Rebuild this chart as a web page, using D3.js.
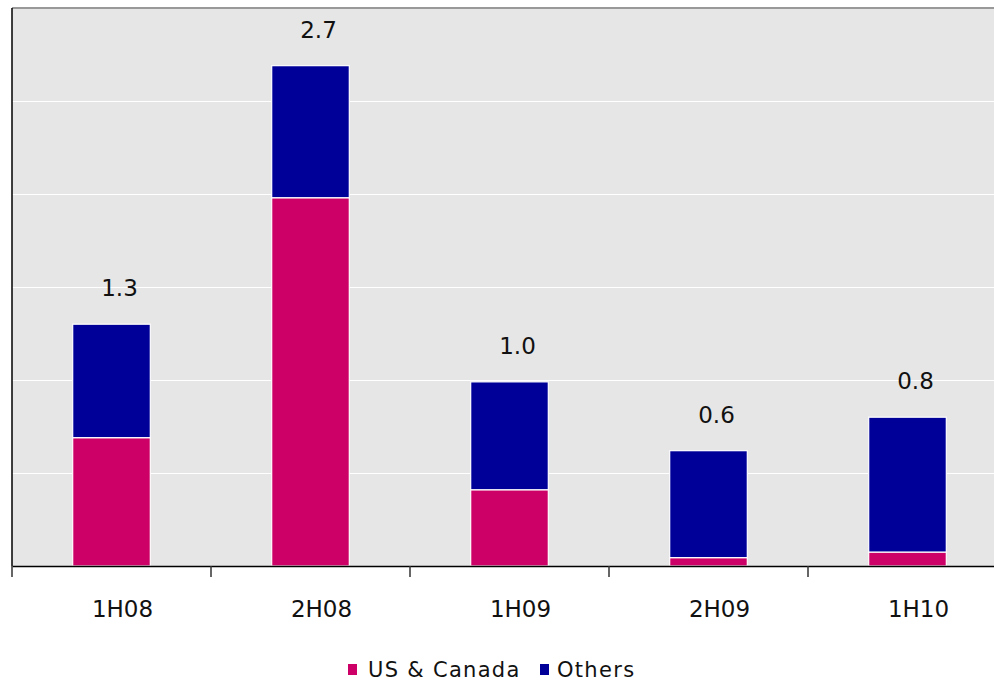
<!DOCTYPE html>
<html>
<head>
<meta charset="utf-8">
<script src="https://cdn.jsdelivr.net/npm/d3@7"></script>
<style>
  body { margin: 0; background: #fff; }
  text { font-family: "DejaVu Sans", Verdana, sans-serif; fill: #111; }
</style>
</head>
<body>
<div id="chart"></div>
<script>
// data
const periods = ["1H08", "2H08", "1H09", "2H09", "1H10"];
const usCanada = [0.69, 1.98, 0.41, 0.045, 0.075];
const others = [0.61, 0.71, 0.58, 0.575, 0.725];
const seriesNames = ["US & Canada", "Others"];
const seriesColors = ["#cc0066", "#000099"];
const yTicks = [0, 0.5, 1, 1.5, 2, 2.5, 3];

const W = 994, H = 682;
const margin = { top: 8, left: 12, bottom: 116 };
const plotRight = 1007;   // plot runs past the window edge

const svg = d3.select("#chart").append("svg")
    .attr("width", W)
    .attr("height", H);

// category slots (ticks sit on their edges)
const xOuter = d3.scaleBand()
    .domain(periods)
    .range([margin.left, plotRight]);

// bars inside the slots
const x = d3.scaleBand()
    .domain(periods)
    .range([margin.left, plotRight])
    .paddingInner(0.61)
    .paddingOuter(0.305);

const y = d3.scaleLinear()
    .domain([0, 3])
    .range([H - margin.bottom, margin.top]);

// plot background
svg.append("rect")
    .attr("x", margin.left)
    .attr("y", margin.top)
    .attr("width", plotRight - margin.left)
    .attr("height", y(0) - margin.top)
    .attr("fill", "#e6e6e6");

// gridlines
svg.append("g")
    .selectAll("line")
    .data(yTicks.filter(d => d > 0 && d < 3))
    .join("line")
    .attr("x1", margin.left)
    .attr("x2", plotRight)
    .attr("y1", d => Math.round(y(d)) + 0.5)
    .attr("y2", d => Math.round(y(d)) + 0.5)
    .attr("stroke", "#fff")
    .attr("stroke-width", 1);

// top border
svg.append("line")
    .attr("x1", margin.left)
    .attr("x2", plotRight)
    .attr("y1", y(3))
    .attr("y2", y(3))
    .attr("stroke", "#999")
    .attr("stroke-width", 2);

// stacked bars
const rows = periods.map((p, i) => ({ period: p, us: usCanada[i], others: others[i] }));
const stack = d3.stack().keys(["us", "others"])(rows);

svg.append("g")
    .selectAll("g")
    .data(stack)
    .join("g")
    .attr("fill", (d, i) => seriesColors[i])
    .selectAll("rect")
    .data(d => d)
    .join("rect")
    .attr("x", d => x(d.data.period))
    .attr("y", d => y(d[1]))
    .attr("width", x.bandwidth())
    .attr("height", d => y(d[0]) - y(d[1]))
    .attr("stroke", "#fff")
    .attr("stroke-width", 1.2);

// total labels
svg.append("g")
    .selectAll("text")
    .data(rows)
    .join("text")
    .attr("x", d => x(d.period) + x.bandwidth() / 2 + 8)
    .attr("y", d => y(d.us + d.others) - 28)
    .attr("text-anchor", "middle")
    .style("font-size", "23px")
    .text(d => d3.format(".1f")(d.us + d.others));

// x axis line + ticks on slot edges
const gx = svg.append("g")
    .attr("transform", "translate(0," + y(0) + ")")
    .call(d3.axisBottom(xOuter).tickSize(0).tickFormat(""));
gx.select(".domain").attr("stroke", "#000").attr("stroke-width", 1.5);

svg.append("g")
    .selectAll("line")
    .data(periods)
    .join("line")
    .attr("x1", d => xOuter(d))
    .attr("x2", d => xOuter(d))
    .attr("y1", y(0))
    .attr("y2", y(0) + 11)
    .attr("stroke", "#333")
    .attr("stroke-width", 1.5);

// category labels
svg.append("g")
    .selectAll("text")
    .data(periods)
    .join("text")
    .attr("x", d => xOuter(d) + xOuter.bandwidth() / 2 + 11)
    .attr("y", y(0) + 51)
    .attr("text-anchor", "middle")
    .style("font-size", "23px")
    .text(d => d);

// y axis line
svg.append("line")
    .attr("x1", margin.left)
    .attr("x2", margin.left)
    .attr("y1", margin.top)
    .attr("y2", y(0))
    .attr("stroke", "#000")
    .attr("stroke-width", 1.5);

// legend
const legend = svg.append("g").attr("transform", "translate(348,677)");
const offsets = [0, 192];
const textGap = [20, 17];
seriesNames.forEach((name, i) => {
    const g = legend.append("g").attr("transform", "translate(" + offsets[i] + ",0)");
    g.append("rect")
        .attr("x", 0).attr("y", -13)
        .attr("width", 9).attr("height", 11)
        .attr("fill", seriesColors[i]);
    g.append("text")
        .attr("x", textGap[i]).attr("y", 0)
        .style("font-size", "21px")
        .style("letter-spacing", "1.3px")
        .text(name);
});
</script>
</body>
</html>
